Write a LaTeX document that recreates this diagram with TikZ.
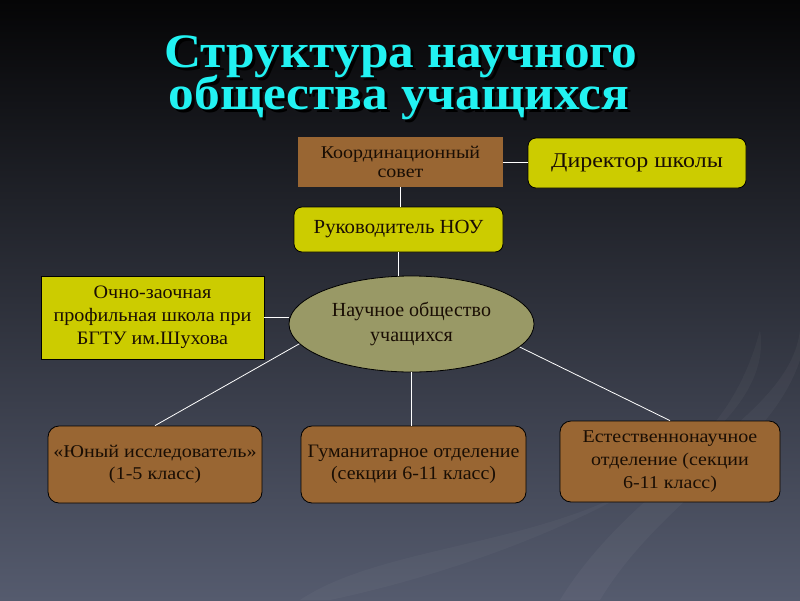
\documentclass[tikz,border=0pt]{standalone}
\usepackage{fontspec}
\setmainfont{Liberation Serif}
\usetikzlibrary{shapes.geometric}
\definecolor{ybox}{HTML}{CCCC00}
\definecolor{bbox}{HTML}{996633}
\definecolor{ebox}{HTML}{999966}
\definecolor{ttl}{HTML}{22F2F2}
\definecolor{txt}{HTML}{1A0E04}
\definecolor{bgtop}{HTML}{050506}
\definecolor{bgmid}{HTML}{3E4352}
\definecolor{bgbot}{HTML}{555B6E}
\newcommand\hs[2]{\scalebox{#1}[1]{#2}}
\newcommand\shtext[1]{\makebox[0pt][l]{\raisebox{-3pt}{\hspace{3pt}\color{black}#1}}\color{ttl}#1}
\tikzset{
  box/.style={draw=black, line width=0.8pt, align=center, inner sep=2pt, text=txt},
  ybx/.style={box, fill=ybox},
  bbx/.style={box, fill=bbox},
  rnd/.style={rounded corners=8pt},
  rndb/.style={rounded corners=11pt},
  conn/.style={draw=white, line width=0.8pt},
  ttlfont/.style={font=\bfseries\fontsize{48}{48}\selectfont},
  bodyf/.style={font=\fontsize{#1}{23}\selectfont},
}
\begin{document}
\begin{tikzpicture}[x=1pt,y=-1pt]
\shade[top color=bgtop, middle color=bgmid, bottom color=bgbot] (0,0) rectangle (800,600);
\useasboundingbox (0,0) rectangle (800,600);
% faint swoosh
\fill[white, opacity=0.035] (560,600) .. controls (640,470) and (790,420) .. (800,330) -- (800,360) .. controls (770,450) and (660,500) .. (600,600) -- cycle;
\fill[white, opacity=0.03] (300,600) .. controls (420,520) and (700,560) .. (760,330) .. controls (780,450) and (520,560) .. (330,600) -- cycle;
% title
\node[ttlfont, anchor=base] (t1) at (401,67) {\hs{1.07}{\shtext{Структура научного}}};
\node[ttlfont, anchor=base] (t2) at (399,109) {\hs{1.07}{\shtext{общества учащихся}}};
% boxes
\node[bbx, draw=none, minimum width=205pt, minimum height=50pt, font=\fontsize{18}{19}\selectfont] (koord) at (400.5,162) {\hs{1.11}{Координационный}\\\hs{1.11}{совет}};
\node[ybx, rnd, minimum width=218pt, minimum height=50pt, font=\fontsize{21}{23}\selectfont] (dir) at (637,163) {\hs{1.14}{Директор школы}};
\node[ybx, rnd, minimum width=209pt, minimum height=45pt, font=\fontsize{20}{23}\selectfont] (ruk) at (398.5,229.5) {\hs{1.04}{Руководитель НОУ}};
\node[ybx, minimum width=223pt, minimum height=83pt, bodyf=19] (ocho) at (152.5,317.5) {\hs{1.06}{Очно-заочная}\\\hs{1.06}{профильная школа при}\\\hs{1.06}{БГТУ им.Шухова}};
\node[box, ellipse, fill=ebox, inner sep=0pt, minimum width=245pt, minimum height=96pt, font=\fontsize{20}{24.5}\selectfont] (ell) at (411.5,324) {Научное общество\\учащихся};
\node[bbx, rndb, minimum width=214pt, minimum height=77pt, font=\fontsize{18}{22}\selectfont] (yun) at (155,464.5) {\hs{1.12}{«Юный исследователь»}\\\hs{1.12}{(1-5 класс)}};
\node[bbx, rndb, minimum width=225pt, minimum height=77pt, font=\fontsize{19}{22}\selectfont] (hum) at (413.5,464.5) {\hs{1.05}{Гуманитарное отделение}\\\hs{1.05}{(секции 6-11 класс)}};
\node[bbx, rndb, minimum width=220pt, minimum height=81pt, bodyf=18] (est) at (670,461.5) {\hs{1.11}{Естественнонаучное}\\\hs{1.11}{отделение (секции}\\\hs{1.11}{6-11 класс)}};
% connectors
\draw[conn] (koord.east) -- (koord.east -| dir.west);
\draw[conn] (koord.south) -- (koord.south |- ruk.north);
\draw[conn] (ruk.south) -- (ruk.south |- ell.north);
\draw[conn] (ocho.east) -- (ocho.east -| ell.west);
\draw[conn] (ell.190.7) -- (yun.north);
\draw[conn] (ell.south) -- (ell.south |- hum.north);
\draw[conn] (ell.348.3) -- (est.north);
\end{tikzpicture}
\end{document}
